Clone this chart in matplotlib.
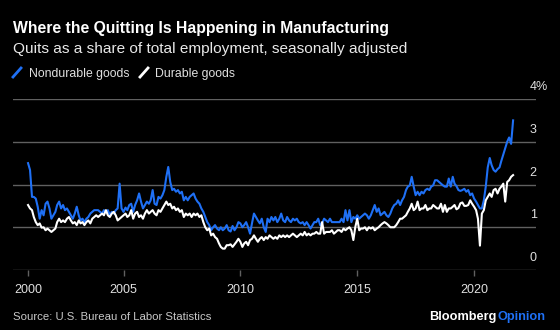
import matplotlib
matplotlib.use("Agg")
import matplotlib.pyplot as plt
import matplotlib.transforms as mtransforms
from matplotlib.lines import Line2D
import pandas as pd

plt.rcParams['font.family'] = ['Liberation Sans', 'DejaVu Sans']

# monthly quits rate (%), Dec 2000 .. Sep 2021
nondurable = [
    2.5, 2.34, 1.71, 1.71, 1.67, 1.48, 1.2, 1.4, 1.28, 1.55, 1.6, 1.44,
    1.2, 1.28, 1.36, 1.52, 1.6, 1.44, 1.52, 1.4, 1.44, 1.36, 1.28, 1.2,
    1.32, 1.48, 1.28, 1.16, 1.2, 1.12, 1.2, 1.24, 1.32, 1.36, 1.4, 1.4,
    1.4, 1.36, 1.32, 1.4, 1.36, 1.4, 1.28, 1.36, 1.32, 1.4, 1.44, 2.02,
    1.44, 1.36, 1.46, 1.4, 1.52, 1.55, 1.36, 1.52, 1.63, 1.79, 1.6, 1.44,
    1.52, 1.6, 1.55, 1.63, 1.87, 1.55, 1.52, 1.71, 1.67, 1.75, 1.87, 2.18,
    2.41, 2.06, 1.87, 1.9, 1.83, 1.87, 1.79, 1.83, 1.63, 1.71, 1.63, 1.71,
    1.75, 1.79, 1.67, 1.6, 1.55, 1.44, 1.36, 1.24, 1.12, 1.05, 0.93, 1.0,
    1.05, 0.97, 0.93, 1.0, 0.93, 0.97, 1.05, 0.93, 0.9, 1.03, 0.93, 1.0,
    1.12, 1.09, 1.0, 1.05, 1.12, 1.0, 0.85, 1.09, 1.32, 1.24, 1.16, 1.09,
    1.2, 1.0, 0.89, 1.2, 1.12, 1.24, 1.16, 1.24, 1.12, 1.2, 1.32, 1.16,
    1.12, 1.24, 1.16, 1.12, 1.2, 1.16, 1.2, 1.12, 1.09, 1.12, 1.05, 1.12,
    1.05, 0.97, 1.05, 1.12, 1.12, 1.2, 1.05, 1.09, 1.2, 1.16, 1.12, 1.2,
    1.12, 1.12, 1.12, 1.12, 1.12, 1.2, 1.12, 1.4, 1.16, 1.4, 1.12, 1.24,
    1.2, 1.28, 1.2, 1.24, 1.28, 1.32, 1.28, 1.2, 1.28, 1.4, 1.52, 1.36,
    1.44, 1.28, 1.32, 1.36, 1.28, 1.24, 1.32, 1.44, 1.52, 1.55, 1.63, 1.52,
    1.63, 1.71, 1.87, 1.95, 1.98, 2.18, 1.95, 1.75, 1.83, 1.75, 1.83, 1.79,
    1.87, 1.9, 1.87, 1.95, 1.98, 2.1, 2.1, 2.06, 2.02, 1.98, 1.95, 1.95,
    2.14, 1.95, 2.18, 2.02, 1.96, 1.87, 1.85, 1.87, 1.9, 1.83, 1.87, 1.75,
    1.79, 1.67, 1.6, 1.52, 1.44, 1.44, 1.63, 1.95, 2.4, 2.62, 2.45, 2.34,
    2.3, 2.36, 2.4, 2.55, 2.7, 2.85, 3.0, 3.1, 2.95, 3.5,
]
durable = [
    1.52, 1.44, 1.4, 1.24, 1.12, 1.05, 1.09, 0.99, 1.0, 0.93, 0.97, 0.93,
    0.89, 0.93, 0.97, 1.12, 1.2, 1.12, 1.16, 1.12, 1.2, 1.24, 1.16, 1.09,
    1.12, 1.05, 1.16, 1.09, 1.12, 1.05, 1.12, 1.16, 1.09, 1.2, 1.24, 1.28,
    1.24, 1.28, 1.32, 1.28, 1.4, 1.28, 1.24, 1.32, 1.36, 1.28, 1.16, 1.2,
    1.24, 1.28, 1.32, 1.24, 1.28, 1.4, 1.2, 1.32, 1.36, 1.24, 1.28, 1.2,
    1.32, 1.4, 1.32, 1.36, 1.4, 1.32, 1.28, 1.4, 1.36, 1.44, 1.52, 1.6,
    1.52, 1.55, 1.44, 1.48, 1.4, 1.44, 1.36, 1.4, 1.24, 1.32, 1.28, 1.32,
    1.24, 1.32, 1.28, 1.32, 1.24, 1.28, 1.12, 1.0, 0.93, 0.97, 0.81, 0.85,
    0.77, 0.73, 0.62, 0.54, 0.5, 0.5, 0.58, 0.58, 0.6, 0.54, 0.6, 0.66,
    0.73, 0.66, 0.54, 0.62, 0.66, 0.58, 0.7, 0.73, 0.81, 0.73, 0.66, 0.73,
    0.77, 0.7, 0.77, 0.73, 0.81, 0.77, 0.73, 0.77, 0.73, 0.81, 0.77, 0.81,
    0.77, 0.81, 0.77, 0.81, 0.85, 0.81, 0.77, 0.81, 0.85, 0.81, 0.89, 0.81,
    0.85, 0.81, 0.85, 0.85, 0.89, 0.85, 0.85, 1.12, 0.85, 0.89, 0.89, 0.89,
    0.93, 0.85, 0.89, 0.93, 0.93, 0.89, 0.97, 0.93, 0.97, 1.0, 0.93, 0.7,
    1.0, 1.2, 0.93, 0.97, 0.97, 1.0, 0.93, 1.0, 0.97, 1.0, 0.93, 0.97,
    1.0, 1.05, 1.09, 1.12, 1.09, 1.05, 1.0, 1.0, 1.0, 1.05, 1.12, 1.2,
    1.2, 1.24, 1.28, 1.36, 1.44, 1.55, 1.4, 1.44, 1.6, 1.4, 1.44, 1.44,
    1.52, 1.4, 1.44, 1.44, 1.52, 1.48, 1.44, 1.44, 1.55, 1.36, 1.52, 1.36,
    1.44, 1.44, 1.48, 1.52, 1.42, 1.45, 1.56, 1.58, 1.5, 1.5, 1.52, 1.63,
    1.55, 1.48, 1.4, 1.2, 0.57, 1.32, 1.4, 1.63, 1.71, 1.79, 1.71, 1.87,
    1.9, 1.79, 1.9, 1.95, 2.02, 1.6, 2.06, 2.1, 2.18, 2.22,
]
months = pd.date_range("2000-12-01", periods=len(nondurable), freq="MS")

xtick_dates = pd.to_datetime(["2000-12-01", "2005-01-01", "2010-01-01", "2015-01-01", "2020-01-01"])
xtick_labels = ["2000", "2005", "2010", "2015", "2020"]
ytick_vals = [0, 1, 2, 3, 4]
ytick_labels = ["0", "1", "2", "3", "4%"]

BLUE = "#1f70f5"
GRID = "#606060"
W, H = 560, 330

fig = plt.figure(figsize=(5.6, 3.3), dpi=100, facecolor="black")
ax = fig.add_axes([13 / W, 1 - 270 / H, 523 / W, 171 / H])
ax.set_facecolor("black")

ax.plot(months, nondurable, color=BLUE, lw=1.5, solid_joinstyle="round")
ax.plot(months, durable, color="white", lw=1.5, solid_joinstyle="round")

ax.set_ylim(0, 4)
ax.set_xlim(pd.Timestamp("2000-04-10"), pd.Timestamp("2022-08-25"))
ax.set_yticks(ytick_vals)
ax.yaxis.set_tick_params(length=0, labelleft=False)
ax.grid(axis="y", color=GRID, lw=1)
ax.set_axisbelow(True)
for s in ax.spines.values():
    s.set_visible(False)

ax.set_xticks(xtick_dates)
ax.set_xticklabels(xtick_labels)
ax.tick_params(axis="x", colors=GRID, length=4, width=1, pad=6,
               labelcolor="#e0e0e0", labelsize=9)

# y labels sit above the gridlines on the right
ytrans = mtransforms.offset_copy(ax.get_yaxis_transform(), fig=fig, y=12, units="dots")
for v, lab in zip(ytick_vals, ytick_labels):
    ax.text(0.988, v, lab, transform=ytrans, color="#e0e0e0", fontsize=9,
            ha="left", va="center", clip_on=False)

# header
fig.text(13 / W, 1 - 33 / H, "Where the Quitting Is Happening in Manufacturing",
         color="white", fontsize=11.3, fontweight="bold", va="baseline")
fig.text(13 / W, 1 - 53 / H, "Quits as a share of total employment, seasonally adjusted",
         color="#e8e8e8", fontsize=11.1, va="baseline")

# legend
fig.add_artist(Line2D([13 / W, 21 / W], [1 - 77 / H, 1 - 68 / H], transform=fig.transFigure,
                      color=BLUE, lw=2))
fig.text(29 / W, 1 - 77 / H, "Nondurable goods", color="#e0e0e0", fontsize=8.8, va="baseline")
fig.add_artist(Line2D([140 / W, 148 / W], [1 - 77 / H, 1 - 68 / H], transform=fig.transFigure,
                      color="white", lw=2))
fig.text(155 / W, 1 - 77 / H, "Durable goods", color="#e0e0e0", fontsize=8.8, va="baseline")

# footer
fig.text(13 / W, 1 - 320 / H, "Source: U.S. Bureau of Labor Statistics",
         color="#c8c8c8", fontsize=8.2, va="baseline")
fig.text(497 / W, 1 - 320 / H, "Bloomberg", color="white", fontsize=9.2,
         fontweight="bold", ha="right", va="baseline")
fig.text(497 / W, 1 - 320 / H, "Opinion", color=BLUE, fontsize=9.2,
         fontweight="bold", ha="left", va="baseline")

fig.savefig("out.png", dpi=100, facecolor="black")
